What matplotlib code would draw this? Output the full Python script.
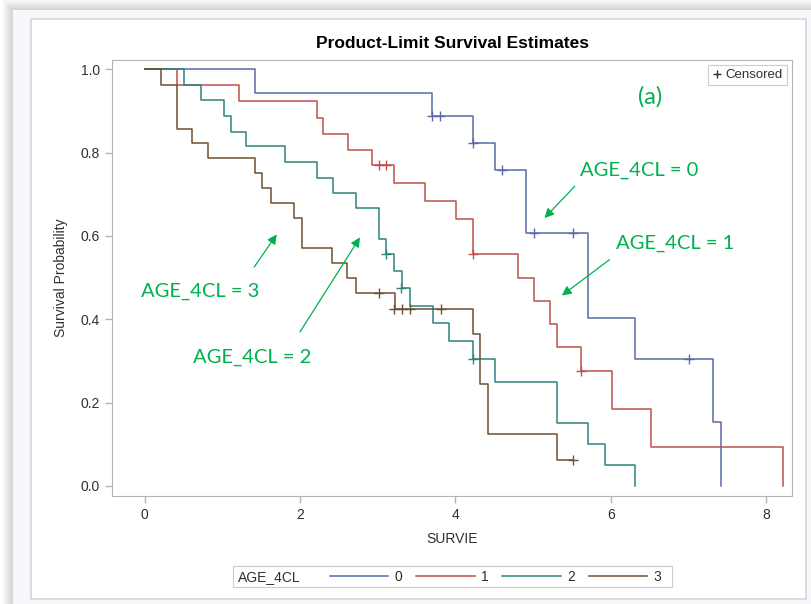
import numpy as np
import matplotlib
matplotlib.use("Agg")
from matplotlib import pyplot as plt
from matplotlib.lines import Line2D
from matplotlib.patches import Rectangle

plt.rcParams['font.family'] = ['Liberation Sans', 'DejaVu Sans']

# Kaplan-Meier step data (time, survival after event)
t0 = [0, 1.42, 3.70, 4.22, 4.51, 4.91, 5.71, 6.31, 7.31, 7.42]
s0 = [1.0, 0.944, 0.888, 0.824, 0.757, 0.606, 0.402, 0.304, 0.153, 0.0]
c0_t = [3.70, 3.80, 4.22, 4.60, 5.01, 5.51, 7.01]
c0_s = [0.888, 0.888, 0.824, 0.757, 0.606, 0.606, 0.304]

t1 = [0, 0.41, 1.21, 2.22, 2.30, 2.62, 2.93, 3.21, 3.61, 4.01, 4.22, 4.81, 5.01, 5.22, 5.31, 5.62, 6.01, 6.51, 8.21]
s1 = [1.0, 0.962, 0.923, 0.883, 0.845, 0.807, 0.770, 0.727, 0.684, 0.640, 0.556, 0.498, 0.444, 0.388, 0.333, 0.277, 0.185, 0.094, 0.0]
c1_t = [3.02, 3.11, 4.22, 5.62]
c1_s = [0.770, 0.770, 0.556, 0.277]

t2 = [0, 0.51, 0.72, 1.02, 1.11, 1.31, 1.81, 2.22, 2.42, 2.72, 3.02, 3.11, 3.21, 3.31, 3.42, 3.71, 3.92, 4.22, 4.51, 5.31, 5.71, 5.92, 6.31]
s2 = [1.0, 0.962, 0.927, 0.888, 0.850, 0.816, 0.778, 0.739, 0.703, 0.666, 0.592, 0.556, 0.516, 0.474, 0.432, 0.392, 0.348, 0.304, 0.250, 0.152, 0.100, 0.050, 0.0]
c2_t = [3.11, 3.30, 4.22]
c2_s = [0.556, 0.474, 0.304]

t3 = [0, 0.21, 0.41, 0.61, 0.81, 1.42, 1.51, 1.62, 1.92, 2.02, 2.41, 2.60, 2.72, 3.22, 4.22, 4.31, 4.42, 5.31, 5.51]
s3 = [1.0, 0.963, 0.856, 0.822, 0.787, 0.751, 0.714, 0.679, 0.642, 0.571, 0.536, 0.498, 0.464, 0.424, 0.364, 0.244, 0.125, 0.062, 0.062]
c3_t = [3.01, 3.21, 3.31, 3.42, 3.81, 5.51]
c3_s = [0.464, 0.424, 0.424, 0.424, 0.424, 0.062]

groups = ['0', '1', '2', '3']
colors = ['#5a6aa6', '#c0504a', '#2a857a', '#6e4f33']

# annotations: label, text pos, arrow tail, arrow head (data coords)
ann_labels = ['AGE_4CL = 0', 'AGE_4CL = 1', 'AGE_4CL = 3', 'AGE_4CL = 2']
ann_text = [(6.37, 0.758), (6.82, 0.583), (0.72, 0.468), (1.38, 0.309)]
ann_tail = [(5.56, 0.724), (6.01, 0.547), (1.39, 0.520), (1.98, 0.364)]
ann_head = [(5.12, 0.638), (5.34, 0.453), (1.72, 0.609), (2.79, 0.602)]

W, H = 812, 604
def fx(px): return px / W
def fy(py): return 1 - py / H

fig = plt.figure(figsize=(8.12, 6.04), dpi=100)
fig.patch.set_facecolor('white')

# soft shadow + panel + white chart box
for k in range(6):
    fig.patches.append(Rectangle((fx(13 - 2 * k), 0), 1, fy(10 - 2 * k), transform=fig.transFigure,
                                 facecolor='#808080', alpha=0.07, edgecolor='none', zorder=-10))
fig.patches.append(Rectangle((fx(13), 0), 1, fy(10), transform=fig.transFigure,
                             facecolor='#f7f8fc', edgecolor='none', zorder=-9))
fig.patches.append(Rectangle((fx(31), fy(599)), fx(806) - fx(31), fy(19) - fy(599), transform=fig.transFigure,
                             facecolor='white', edgecolor='#d6d6d6', lw=1.2, zorder=-8))

ax = fig.add_axes([fx(112), fy(496), fx(792) - fx(112), fy(60) - fy(496)])
ax.set_facecolor('white')

times = [t0, t1, t2, t3]
survs = [s0, s1, s2, s3]
cens_t = [c0_t, c1_t, c2_t, c3_t]
cens_s = [c0_s, c1_s, c2_s, c3_s]
for i in range(4):
    ax.step(times[i], survs[i], where='post', color=colors[i], lw=1.1)
    ax.plot(cens_t[i], cens_s[i], ls='none', marker='+', ms=7, mew=1.0, color=colors[i])

ax.set_xlim(-0.42, 8.33)
ax.set_ylim(-0.024, 1.022)
ax.set_xticks([0, 2, 4, 6, 8])
ax.set_yticks([0.0, 0.2, 0.4, 0.6, 0.8, 1.0])
ax.set_yticklabels(['0.0', '0.2', '0.4', '0.6', '0.8', '1.0'])
for sp in ax.spines.values():
    sp.set_color('#b4b4b4')
ax.tick_params(colors='#b4b4b4', labelcolor='#303030', labelsize=10, length=5, width=1)
ax.set_xlabel('SURVIE', fontsize=10, color='#303030', labelpad=7)
ax.set_ylabel('Survival Probability', fontsize=10, color='#303030', labelpad=9)
fig.text(fx(453), fy(43), 'Product-Limit Survival Estimates', ha='center', va='center',
         fontsize=12.5, fontweight='bold', color='black')

# censored legend
cl = ax.legend(handles=[Line2D([0], [0], marker='+', ls='none', color='#303030', ms=6, mew=1)],
               labels=['Censored'], loc='upper right', fancybox=False, edgecolor='#cccccc',
               fontsize=9.5, handlelength=0.7, handletextpad=0.3, borderpad=0.3, borderaxespad=0.4,
               framealpha=1)
cl.get_frame().set_linewidth(0.8)
for t in cl.get_texts():
    t.set_color('#303030')

# green annotations
green = '#00b050'
for lab, tp, tl, hd in zip(ann_labels, ann_text, ann_tail, ann_head):
    ax.text(tp[0], tp[1], lab, ha='center', va='center', fontsize=14.5, color=green,
            family=['Lato', 'DejaVu Sans'])
    ax.annotate('', xy=hd, xytext=tl,
                arrowprops=dict(arrowstyle='-|>', color=green, lw=0.9, mutation_scale=14))
ax.text(6.50, 0.934, '(a)', ha='center', va='center', fontsize=17, color=green,
        family=['Lato', 'DejaVu Sans'])

# bottom group legend
fig.patches.append(Rectangle((fx(233), fy(587)), fx(672) - fx(233), fy(566) - fy(587), transform=fig.transFigure,
                             facecolor='white', edgecolor='#cccccc', lw=0.8, zorder=1))
fig.text(fx(238), fy(577), 'AGE_4CL', ha='left', va='center', fontsize=10, color='#303030')
handles = [Line2D([0], [0], color=c, lw=1.1) for c in colors]
lg = fig.legend(handles, groups, ncol=4, loc='center left', bbox_to_anchor=(fx(330), fy(577)),
                frameon=False, fontsize=10, handlelength=4.2, handletextpad=0.45,
                columnspacing=1.0, borderpad=0, borderaxespad=0)
for t in lg.get_texts():
    t.set_color('#303030')

plt.savefig('out.png', dpi=100)
